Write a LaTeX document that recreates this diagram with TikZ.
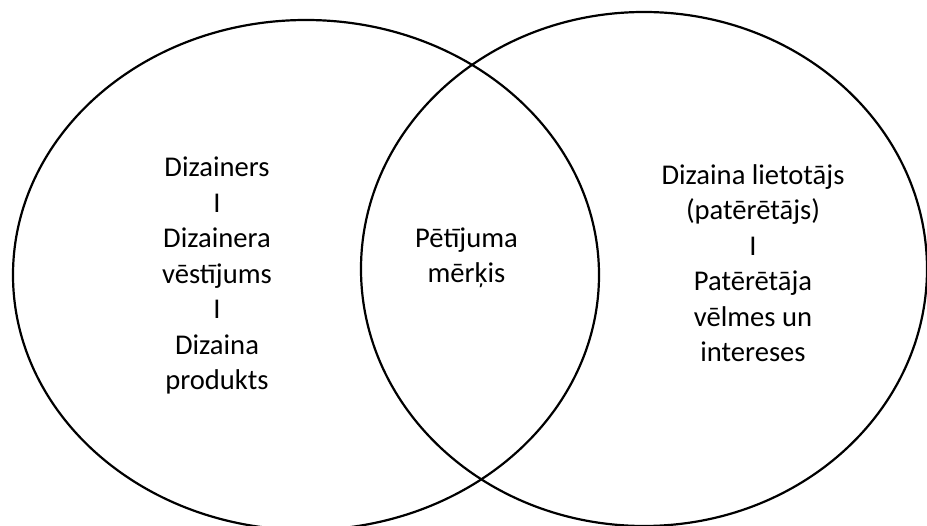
\documentclass[tikz,border=0pt]{standalone}
\usepackage{fontspec}
\setmainfont{Carlito}
\begin{document}
\begin{tikzpicture}[x=1pt,y=-1pt,
  circ/.style={draw=black, line width=2.2pt},
  txt/.style={align=center, inner sep=0pt, font=\fontsize{28.6}{35.5}\selectfont, anchor=base}]
\useasboundingbox (0,0) rectangle (927,526);
\clip (0,0) rectangle (927,526);
\draw[circ] (306,275) ellipse [x radius=293, y radius=255];
\draw[circ] (644,269) ellipse [x radius=283, y radius=257];
\node[txt] (left) at (217,390) {Dizainers\\I\\Dizainera\\vēstījums\\I\\Dizaina\\produkts};
\node[txt] (mid) at (466.5,283) {Pētījuma\\mērķis};
\node[txt] (right) at (753,362) {Dizaina lietotājs\\(patērētājs)\\I\\Patērētāja\\vēlmes un\\intereses};
\end{tikzpicture}
\end{document}
